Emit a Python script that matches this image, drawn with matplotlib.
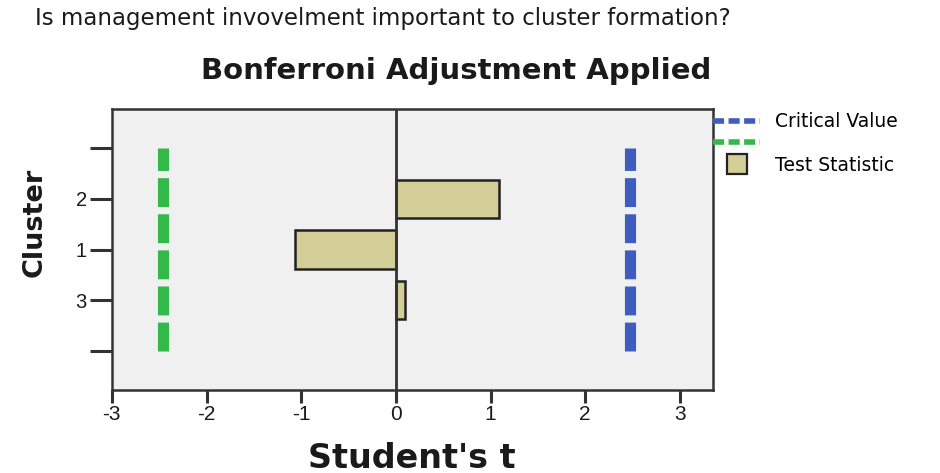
import matplotlib.pyplot as plt
from matplotlib.lines import Line2D

plt.rcParams['axes.unicode_minus'] = False
plt.rcParams['font.family'] = ['Liberation Sans', 'DejaVu Sans']

# cluster order from bottom to top, padded with blank ticks
clusters = ['', '3', '1', '2', '']
t_stat = [None, 0.10, -1.07, 1.09, None]
crit_lo = -2.46
crit_hi = 2.47

bg = '#f0f0f0'
bar_col = '#d3cd96'
blue = '#3f5dbf'
green = '#33b84a'
ink = '#1a1a1a'

fig = plt.figure(figsize=(9.4, 4.73), dpi=100)
ax = fig.add_axes([0.119, 0.1755, 0.6395, 0.594])
ax.set_facecolor(bg)

pos = list(range(len(clusters)))
for y, v in zip(pos, t_stat):
    if v is None:
        continue
    ax.barh(y, v, height=0.75, color=bar_col, edgecolor='#222222', linewidth=1.8, zorder=3)

ax.axvline(0, color='#333333', linewidth=2, zorder=4)

# critical value lines, dashes start at the bottom tick
ax.plot([crit_lo, crit_lo], [pos[0], pos[-1]], color=green, linewidth=8,
        dashes=(2.6, 0.65), zorder=2)
ax.plot([crit_hi, crit_hi], [pos[0], pos[-1]], color=blue, linewidth=8,
        dashes=(2.6, 0.65), zorder=2)

ax.set_xlim(-3, 3.35)
ax.set_ylim(-0.77, 4.77)
ax.set_xticks([-3, -2, -1, 0, 1, 2, 3])
ax.set_yticks(pos)
ax.set_yticklabels(clusters)
ax.tick_params(axis='x', length=9, width=2.2, color='#333333', labelsize=15,
               labelcolor=ink, pad=2)
ax.tick_params(axis='y', length=16, width=2.2, color='#333333', labelsize=14.5,
               labelcolor=ink, pad=2)
for s in ax.spines.values():
    s.set_linewidth(1.8)
    s.set_color('#333333')

fig.text(0.438, 0.011, "Student's t", fontsize=24, fontweight='bold',
         family='DejaVu Sans', color=ink, ha='center', va='baseline')
fig.text(0.037, 0.53, 'Cluster', fontsize=19.5, fontweight='bold', rotation=90,
         family='DejaVu Sans', color=ink, ha='center', va='center')
fig.text(0.485, 0.833, 'Bonferroni Adjustment Applied', fontsize=21, fontweight='bold',
         family='DejaVu Sans', color=ink, ha='center', va='baseline')
fig.text(0.037, 0.947, 'Is management invovelment important to cluster formation?',
         fontsize=16.5, family='DejaVu Sans', color=ink, va='baseline')

handles = [
    Line2D([], [], color=blue, linewidth=4, dashes=(2, 0.8)),
    Line2D([], [], color=green, linewidth=4, dashes=(2, 0.8)),
    Line2D([], [], linestyle='none', marker='s', markersize=14,
           markerfacecolor=bar_col, markeredgecolor='#222222', markeredgewidth=1.6),
]
labels = ['Critical Value', '', 'Test Statistic']
fig.legend(handles, labels, loc='upper left', bbox_to_anchor=(0.759, 0.763),
           frameon=False, handlelength=2.5, handletextpad=0.8,
           labelspacing=0.15, borderpad=0, borderaxespad=0,
           prop={'family': 'DejaVu Sans', 'size': 13.5})

fig.savefig('out.png', dpi=100)
